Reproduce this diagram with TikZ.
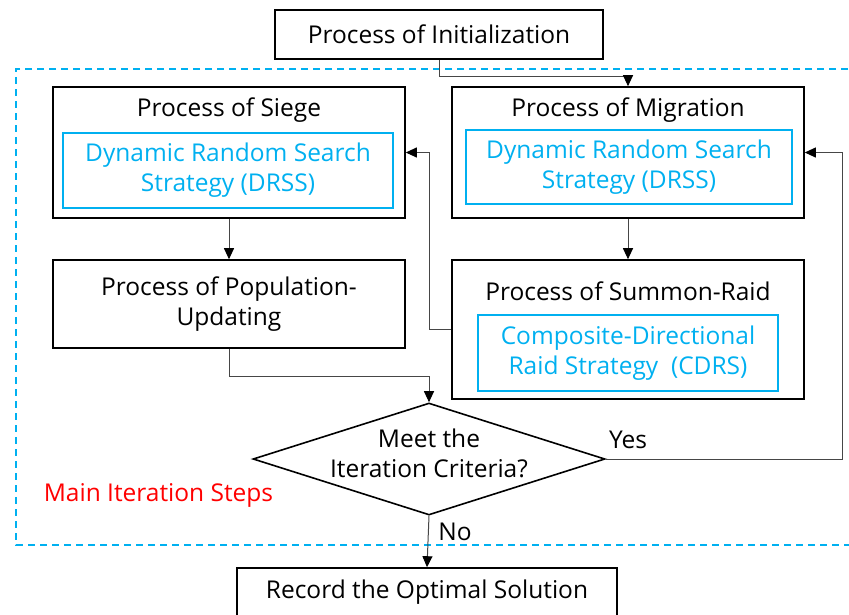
\documentclass[tikz,border=0pt]{standalone}
\usepackage{fontspec}
\setmainfont{Open Sans}
\usetikzlibrary{arrows.meta,shapes.geometric,calc}
\definecolor{skyb}{RGB}{0,176,240}
\definecolor{conn}{RGB}{70,70,70}
\tikzset{
  box/.style={draw=black,line width=1.6pt,inner sep=0pt,align=center},
  inbox/.style={draw=skyb,line width=1.5pt,inner sep=0pt,align=center,text=skyb},
  lbl/.style={inner sep=0pt,align=center},
  conline/.style={draw=conn,line width=1pt},
  arr/.style={conline,-{Triangle[length=11pt,width=10pt,color=black]}},
  txt/.style={font=\fontsize{24.5}{30}\selectfont},
}
\begin{document}
\begin{tikzpicture}[x=1pt,y=-1pt,txt]
\useasboundingbox (0,0) rectangle (849,614);
\clip (0,0) rectangle (849,614);
% dashed frame
\draw[skyb,line width=1.5pt,dash pattern=on 7pt off 5pt] (860,69) -- (16,69) -- (16,545) -- (860,545);
% boxes
\node[box,minimum width=328pt,minimum height=49pt] (init) at (439,34.5) {Process of Initialization};
\node[box,minimum width=352pt,minimum height=131pt] (siege) at (229,152.5) {};
\node[lbl] (siegeT) at (229,110) {Process of Siege};
\node[inbox,minimum width=330pt,minimum height=75pt] (siegeI) at (228,170.5) {Dynamic Random Search\\Strategy (DRSS)};
\node[box,minimum width=352pt,minimum height=131pt] (mig) at (628,152.5) {};
\node[lbl] (migT) at (628,110) {Process of Migration};
\node[inbox,minimum width=326pt,minimum height=74pt] (migI) at (629,167) {Dynamic Random Search\\Strategy (DRSS)};
\node[box,minimum width=352pt,minimum height=88pt] (pop) at (229,304) {Process of Population-\\Updating};
\node[box,minimum width=352pt,minimum height=139pt] (sum) at (628,329.5) {};
\node[lbl] (sumT) at (628,291) {Process of Summon-Raid};
\node[inbox,minimum width=300pt,minimum height=76pt] (sumI) at (628,353) {Composite-Directional\\Raid Strategy\ \ (CDRS)};
\node[draw=black,line width=1.6pt,diamond,minimum width=352pt,minimum height=112pt,inner sep=0pt] (dia) at (429,459) {};
\node[lbl] (diaT) at (429,453) {Meet the\\Iteration Criteria?};
\node[box,minimum width=380pt,minimum height=52pt] (rec) at (427,594) {};
\node[lbl] (recT) at (427,592) {Record the Optimal Solution};
% labels
\node[lbl] (yes) at (628,440) {Yes};
\node[lbl] (no) at (455,532) {No};
\node[lbl,text=red] (main) at (158.5,495) {Main Iteration Steps};
% connectors
\draw[arr] (init.south) -- ++(0,17) -| (mig.north);
\draw[arr] (siege.south) -- (pop.north);
\draw[arr] (mig.south) -- (sum.north);
\draw[arr] (sum.west) -- ++(-22,0) |- (siege.east);
\draw[arr] (pop.south) -- ++(0,28) -| (dia.north);
\coordinate (rt) at (842,459);
\draw[arr] (dia.east) -- (rt) |- (mig.east);
\draw[arr] (dia.south) -- (rec.north);
\end{tikzpicture}
\end{document}
